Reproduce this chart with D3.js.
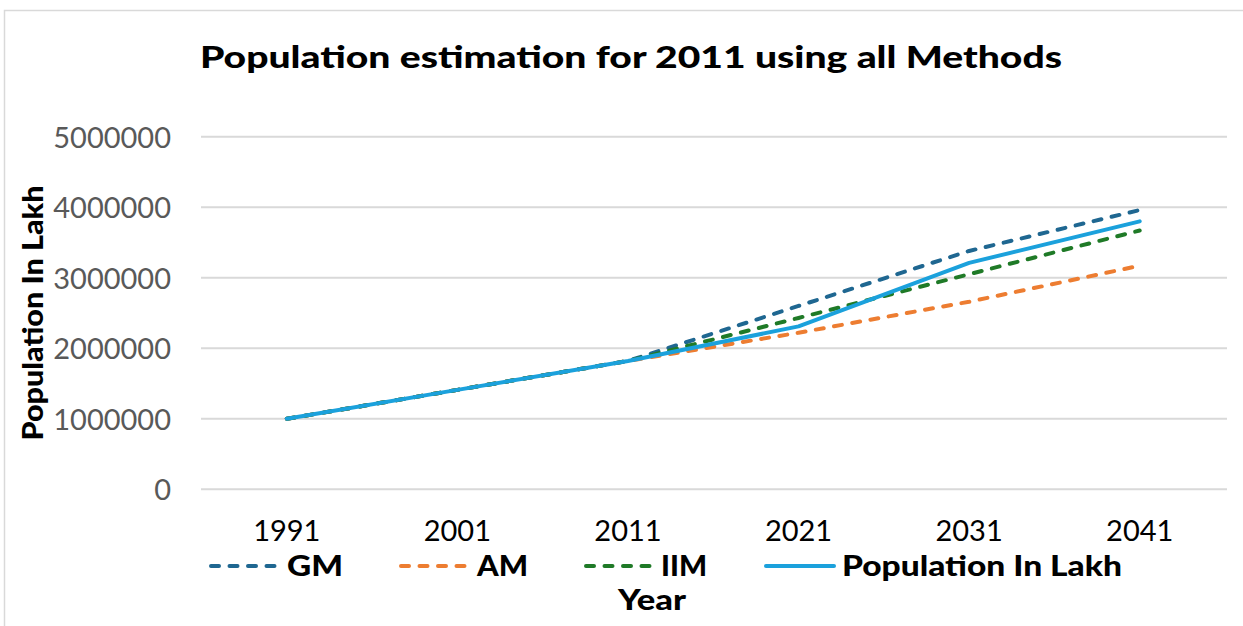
<!DOCTYPE html>
<html>
<head>
<meta charset="utf-8">
<script src="https://cdn.jsdelivr.net/npm/d3@7/dist/d3.min.js"></script>
<style>
  html, body { margin: 0; padding: 0; background: #fff; }
  svg { display: block; }
</style>
</head>
<body>
<svg id="chart" width="1243" height="626"></svg>
<script>
// Census years (actual up to 2011, projected afterwards)
const years = ["1991", "2001", "2011", "2021", "2031", "2041"];

// Projected population by each method
const gmValues  = [1000000, 1410000, 1820000, 2600000, 3380000, 3960000];
const amValues  = [1000000, 1410000, 1820000, 2220000, 2660000, 3170000];
const iimValues = [1000000, 1410000, 1820000, 2430000, 3050000, 3670000];
const popValues = [1000000, 1410000, 1820000, 2310000, 3210000, 3800000];

const yTicks = [0, 1000000, 2000000, 3000000, 4000000, 5000000];

const seriesNames  = ["GM", "AM", "IIM", "Population In Lakh"];
const seriesColors = ["#1f6791", "#ed7d31", "#1f7a27", "#1ba1dc"];
const seriesDashed = [true, true, true, false];
const seriesValues = [gmValues, amValues, iimValues, popValues];

const FONT = "Lato, 'Noto Sans', sans-serif";
const svg = d3.select("#chart");

// chart frame
svg.append("rect")
  .attr("x", 4.5).attr("y", 10.5)
  .attr("width", 1250).attr("height", 640)
  .attr("fill", "#fff").attr("stroke", "#d9d9d9").attr("stroke-width", 1.5);

const x = d3.scaleBand().domain(years).range([201.5, 1225]);
const y = d3.scaleLinear().domain([0, 5000000]).range([489.3, 136.7]);

// horizontal gridlines
svg.append("g")
  .selectAll("line")
  .data(yTicks)
  .join("line")
  .attr("x1", 201).attr("x2", 1227)
  .attr("y1", d => y(d)).attr("y2", d => y(d))
  .attr("stroke", "#d9d9d9").attr("stroke-width", 2);

// y axis tick labels
const yAxis = d3.axisLeft(y).tickValues(yTicks).tickFormat(d3.format("d")).tickSize(0).tickPadding(0);
const gy = svg.append("g").attr("transform", "translate(171,0)").call(yAxis);
gy.select(".domain").remove();
gy.selectAll("text")
  .attr("font-family", FONT)
  .attr("font-weight", 400)
  .attr("font-size", 29)
  .attr("fill", "#595959")
  .attr("dy", "0.36em");

// x axis tick labels
const xAxis = d3.axisBottom(x).tickSize(0).tickPadding(0);
const gx = svg.append("g").attr("transform", "translate(0,520)").call(xAxis);
gx.select(".domain").remove();
gx.selectAll("text")
  .attr("font-family", FONT)
  .attr("font-weight", 400)
  .attr("font-size", 29)
  .attr("fill", "#000")
  .attr("dy", "0.72em");

// series lines
const line = d3.line()
  .x((d, i) => x(years[i]) + x.bandwidth() / 2)
  .y(d => y(d));

seriesValues.forEach((vals, k) => {
  svg.append("path")
    .datum(vals)
    .attr("d", line)
    .attr("fill", "none")
    .attr("stroke", seriesColors[k])
    .attr("stroke-width", 4)
    .attr("stroke-linecap", "round")
    .attr("stroke-linejoin", "round")
    .attr("stroke-dasharray", seriesDashed[k] ? "8,10.5" : null);
});

// title
svg.append("text")
  .attr("x", 631).attr("y", 68)
  .attr("text-anchor", "middle")
  .attr("font-family", FONT)
  .attr("font-weight", 900)
  .attr("font-size", 30)
  .attr("textLength", 862)
  .attr("lengthAdjust", "spacingAndGlyphs")
  .attr("fill", "#000")
  .text("Population estimation for 2011 using all Methods");

// y axis title
svg.append("text")
  .attr("transform", "translate(43,313) rotate(-90)")
  .attr("text-anchor", "middle")
  .attr("font-family", FONT)
  .attr("font-weight", 900)
  .attr("font-size", 28)
  .attr("textLength", 255)
  .attr("lengthAdjust", "spacingAndGlyphs")
  .attr("fill", "#000")
  .text("Population In Lakh");

// x axis title
svg.append("text")
  .attr("x", 652).attr("y", 610)
  .attr("text-anchor", "middle")
  .attr("font-family", FONT)
  .attr("font-weight", 900)
  .attr("font-size", 28)
  .attr("textLength", 68)
  .attr("lengthAdjust", "spacingAndGlyphs")
  .attr("fill", "#000")
  .text("Year");

// legend
const legendItems = [
  { lx: 211, tx: 287, tw: 56 },
  { lx: 401, tx: 477, tw: 51 },
  { lx: 586, tx: 661, tw: 46 },
  { lx: 766, tx: 842, tw: 280 }
];
legendItems.forEach((it, k) => {
  svg.append("line")
    .attr("x1", it.lx).attr("x2", it.lx + 68)
    .attr("y1", 566).attr("y2", 566)
    .attr("stroke", seriesColors[k])
    .attr("stroke-width", 4)
    .attr("stroke-linecap", "round")
    .attr("stroke-dasharray", seriesDashed[k] ? "8,10.5" : null);
  svg.append("text")
    .attr("x", it.tx).attr("y", 576)
    .attr("font-family", FONT)
    .attr("font-weight", 900)
    .attr("font-size", 28)
    .attr("textLength", it.tw)
    .attr("lengthAdjust", "spacingAndGlyphs")
    .attr("fill", "#000")
    .text(seriesNames[k]);
});
</script>
</body>
</html>
